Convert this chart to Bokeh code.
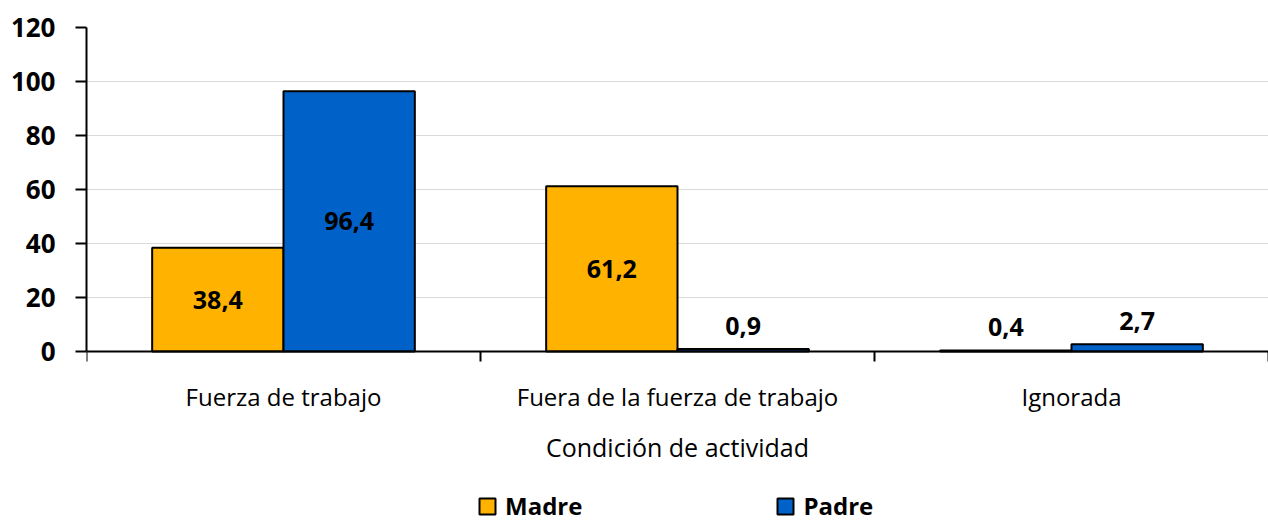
from bokeh.plotting import figure
from bokeh.models import ColumnDataSource, FixedTicker, Legend, LegendItem, Range1d, LabelSet
from bokeh.core.properties import value
from bokeh.embed import file_html
from bokeh.resources import INLINE

categories = ["Fuerza de trabajo", "Fuera de la fuerza de trabajo", "Ignorada"]
madre = [38.4, 61.2, 0.4]
padre = [96.4, 0.9, 2.7]
series_names = ["Madre", "Padre"]
colors = ["#FFB300", "#0062C8"]
y_ticks = [0, 20, 40, 60, 80, 100, 120]

FONT = "Open Sans"

# frame spans down to the page bottom so that axis labels and legend fit below y=0
PX_PER_UNIT = 324 / 120
p = figure(frame_width=1182, frame_height=495, output_backend="svg", toolbar_location=None,
           x_range=Range1d(0, 3), y_range=Range1d(-171 / PX_PER_UNIT, 120),
           min_border_left=86, min_border_right=0, min_border_top=27, min_border_bottom=0)
p.outline_line_color = None

renderers = []
for k, (vals, col) in enumerate(zip([madre, padre], colors)):
    xs = [i + (k + 1) / 3 for i in range(len(categories))]
    labels = [f"{v:.1f}".replace(".", ",") for v in vals]
    ly = [v / 2 if v > 10 else v for v in vals]
    off = [0 if v > 10 else 23 for v in vals]
    src = ColumnDataSource(dict(x=xs, top=vals, label=labels, ly=ly, off=off))
    r = p.vbar(x="x", top="top", width=1 / 3, bottom=0, source=src,
               fill_color=col, line_color="black", line_width=2)
    renderers.append(r)
    ls = LabelSet(x="x", y="ly", text="label", source=src, text_align="center",
                  text_baseline="middle", y_offset="off", text_font=value(FONT),
                  text_font_size="25px", text_font_style="bold", text_color="black")
    p.add_layout(ls)

# y axis
p.yaxis.ticker = FixedTicker(ticks=y_ticks)
p.yaxis.bounds = (0, 120)
p.yaxis.major_label_text_font = FONT
p.yaxis.major_label_text_font_size = "26px"
p.yaxis.major_label_text_font_style = "bold"
p.yaxis.major_label_text_color = "black"
p.yaxis.axis_line_width = 2
p.yaxis.axis_line_color = "black"
p.yaxis.major_tick_out = 11
p.yaxis.major_tick_in = 0
p.yaxis.major_tick_line_width = 2
p.yaxis.minor_tick_line_color = None
p.yaxis.major_label_standoff = 20

# x axis at y = 0
p.xaxis.fixed_location = 0
p.xaxis.ticker = FixedTicker(ticks=[0.5, 1.5, 2.5], minor_ticks=[0, 1, 2, 3])
p.xaxis.major_label_overrides = {0.5: categories[0], 1.5: categories[1], 2.5: categories[2]}
p.xaxis.major_tick_line_color = None
p.xaxis.major_tick_out = 0
p.xaxis.major_tick_in = 0
p.xaxis.minor_tick_out = 10
p.xaxis.minor_tick_in = 0
p.xaxis.minor_tick_line_width = 2
p.xaxis.minor_tick_line_color = "black"
p.xaxis.axis_line_width = 2
p.xaxis.axis_line_color = "black"
p.xaxis.major_label_standoff = 18
p.xaxis.major_label_text_font = FONT
p.xaxis.major_label_text_font_size = "24px"
p.xaxis.major_label_text_color = "black"
p.xaxis.axis_label = "Condición de actividad"
p.xaxis.axis_label_text_font = FONT
p.xaxis.axis_label_text_font_size = "25px"
p.xaxis.axis_label_text_font_style = "normal"
p.xaxis.axis_label_text_color = "black"
p.xaxis.axis_label_standoff = 14

p.xgrid.grid_line_color = None
p.ygrid.grid_line_color = "#D9D9D9"
p.ygrid.grid_line_width = 1

legend = Legend(items=[LegendItem(label=n, renderers=[r]) for n, r in zip(series_names, renderers)],
                orientation="horizontal", location=(391, 0),
                label_text_font=FONT, label_text_font_size="24px", label_text_font_style="bold",
                label_text_color="black",
                glyph_width=20, glyph_height=20, spacing=193, label_standoff=8,
                border_line_color=None, background_fill_alpha=0, padding=0, margin=0)
p.add_layout(legend)

open("out.html", "w").write(file_html(p, INLINE))
